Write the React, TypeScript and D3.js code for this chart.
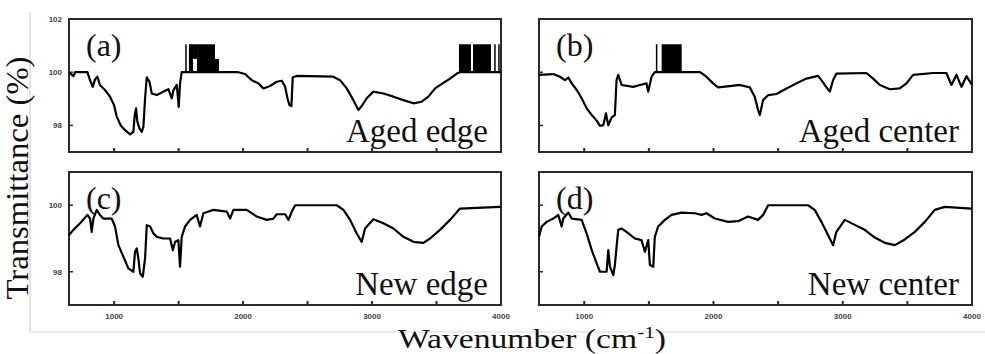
import React from "react";
import * as d3 from "d3";

type Pt = [number, number];

// [wavenumber (cm-1), transmittance (%)]
const agedEdge: Pt[] = [
  [650, 100], [684, 99.85], [697, 100], [793, 100], [813, 99.7], [834, 99.45], [852, 99.73],
  [870, 99.83], [890, 99.52], [929, 99.33], [968, 99.08], [999, 98.77], [1020, 98.33],
  [1051, 98.0], [1085, 97.82], [1124, 97.66], [1149, 97.76], [1160, 98.39], [1170, 98.64],
  [1180, 98.14], [1196, 97.89], [1214, 97.76], [1227, 97.95], [1240, 99.02], [1253, 99.81],
  [1274, 99.64], [1292, 99.2], [1331, 99.14], [1382, 99.27], [1421, 99.36], [1447, 99.02],
  [1460, 99.33], [1486, 99.52], [1501, 98.7], [1511, 99.58], [1524, 100], [1963, 100],
  [2015, 99.93], [2067, 99.7], [2119, 99.58], [2157, 99.39], [2209, 99.48], [2261, 99.64],
  [2300, 99.68], [2326, 99.45], [2344, 99.02], [2359, 98.77], [2375, 98.73], [2385, 99.81],
  [2416, 99.86], [2700, 99.83], [2752, 99.7], [2804, 99.39], [2855, 98.95], [2894, 98.58],
  [2920, 98.73], [2959, 99.02], [3010, 99.27], [3088, 99.2], [3166, 99.08], [3243, 98.95],
  [3321, 98.83], [3385, 98.89], [3437, 99.08], [3489, 99.39], [3553, 99.6], [3605, 99.76],
  [3657, 99.95], [3682, 100], [4000, 100],
];

const agedCenter: Pt[] = [
  [650, 99.9], [761, 99.93], [812, 99.83], [851, 99.7], [877, 99.8], [903, 99.58], [942, 99.33],
  [980, 99.02], [1019, 98.64], [1058, 98.39], [1096, 98.18], [1122, 97.98], [1148, 98.01],
  [1168, 98.45], [1186, 98.0], [1212, 98.3], [1237, 98.39], [1250, 99.7], [1263, 99.9],
  [1289, 99.52], [1379, 99.45], [1431, 99.52], [1482, 99.58], [1495, 99.27], [1521, 99.83],
  [1546, 100], [1896, 100], [1945, 99.83], [1997, 99.58], [2035, 99.43], [2126, 99.48],
  [2203, 99.52], [2281, 99.43], [2319, 99.08], [2345, 98.58], [2358, 98.39], [2384, 98.95],
  [2423, 99.14], [2487, 99.18], [2565, 99.39], [2642, 99.58], [2719, 99.76], [2809, 99.86],
  [2835, 99.7], [2874, 99.43], [2900, 99.27], [2925, 99.7], [2951, 99.95], [3183, 99.97],
  [3235, 99.76], [3287, 99.52], [3364, 99.36], [3441, 99.39], [3493, 99.58], [3544, 99.9],
  [3699, 99.97], [3802, 99.97], [3841, 99.52], [3880, 99.9], [3919, 99.45], [3957, 99.85],
  [3996, 99.55], [4000, 99.6],
];

const newEdge: Pt[] = [
  [650, 99.1], [684, 99.26], [736, 99.46], [793, 99.71], [813, 99.6], [826, 99.2], [839, 99.6],
  [865, 99.86], [890, 99.71], [916, 99.6], [981, 99.6], [1007, 99.36], [1033, 98.8],
  [1072, 98.45], [1110, 98.1], [1149, 98.0], [1162, 98.6], [1175, 98.7], [1188, 98.4],
  [1201, 97.95], [1222, 97.85], [1240, 98.4], [1253, 99.4], [1279, 99.36], [1305, 99.15],
  [1331, 99.05], [1382, 99.0], [1434, 99.0], [1455, 98.65], [1473, 98.9], [1498, 98.95],
  [1511, 98.15], [1524, 99.05], [1550, 99.36], [1589, 99.56], [1640, 99.71], [1666, 99.36],
  [1692, 99.76], [1770, 99.86], [1873, 99.81], [1899, 99.6], [1925, 99.86], [2028, 99.86],
  [2106, 99.66], [2183, 99.56], [2235, 99.6], [2261, 99.73], [2326, 99.73], [2352, 99.56],
  [2378, 99.81], [2404, 100.0], [2726, 100.0], [2778, 99.86], [2830, 99.56], [2881, 99.15],
  [2920, 98.9], [2946, 99.3], [3010, 99.58], [3088, 99.46], [3166, 99.3], [3243, 99.05],
  [3321, 98.9], [3398, 98.87], [3450, 99.0], [3527, 99.26], [3605, 99.56], [3682, 99.9],
  [3992, 99.95], [4000, 99.95],
];

const newCenter: Pt[] = [
  [650, 99.05], [671, 99.36], [709, 99.5], [761, 99.6], [799, 99.71], [825, 99.36],
  [838, 99.6], [877, 99.78], [903, 99.6], [980, 99.56], [1019, 99.15], [1058, 98.65],
  [1096, 98.25], [1122, 98.0], [1173, 98.0], [1186, 98.65], [1199, 98.15], [1225, 97.9],
  [1237, 98.2], [1250, 98.75], [1263, 99.26], [1289, 99.3], [1327, 99.2], [1392, 99.0],
  [1443, 98.95], [1469, 98.6], [1495, 98.95], [1508, 98.2], [1534, 98.15], [1546, 99.05],
  [1572, 99.36], [1624, 99.56], [1676, 99.71], [1753, 99.78], [1856, 99.76], [1908, 99.71],
  [1946, 99.76], [2010, 99.6], [2113, 99.5], [2190, 99.52], [2268, 99.66], [2345, 99.56],
  [2384, 99.71], [2423, 100.0], [2732, 100.0], [2783, 99.86], [2835, 99.5], [2887, 99.1],
  [2925, 98.8], [2951, 99.2], [3016, 99.56], [3093, 99.41], [3170, 99.26], [3248, 99.03],
  [3325, 98.87], [3403, 98.8], [3480, 98.97], [3558, 99.2], [3635, 99.5], [3712, 99.86],
  [3790, 99.95], [3996, 99.9], [4000, 99.9],
];

// saturated (rapidly oscillating) bands: [w0, w1, tLow, tHigh]
const agedEdgeBands: [number, number, number, number][] = [
  [1580, 1612, 100, 101.05], [1612, 1643, 100.5, 101.05], [1643, 1782, 100, 101.05],
  [1782, 1813, 100, 100.5], [3674, 3767, 100, 101.05], [3783, 3922, 100, 101.05],
];
const agedEdgeSpikes: [number, number, number][] = [
  [1557, 100, 101.05], [3953, 100, 101.05], [3984, 100, 101.05],
];
const agedCenterBands: [number, number, number, number][] = [[1599, 1754, 100, 101.05]];
const agedCenterSpikes: [number, number, number][] = [[1560, 100, 101.05]];

const xDomain: [number, number] = [650, 4000];
const xTickValues = [1000, 1500, 2000, 2500, 3000, 3500];
const xTickLabels = [1000, 2000, 3000, 4000];
const topYDomain: [number, number] = [97, 102];
const bottomYDomain: [number, number] = [97, 101];
const topYTickLabels = [102, 100, 98];
const bottomYTickLabels = [100, 98];
const yTickValues = [100, 98];

const SERIF = "'Liberation Serif', 'Times New Roman', Times, serif";
const SANS = "'Liberation Sans', Arial, sans-serif";

type PanelProps = {
  left: number; top: number; width: number; height: number;
  yDomain: [number, number]; data: Pt[];
  bands?: [number, number, number, number][]; spikes?: [number, number, number][];
  letter: string; name: string; yLabels?: number[]; xLabels?: boolean;
};

function Panel(p: PanelProps) {
  const x = d3.scaleLinear().domain(xDomain).range([p.left, p.left + p.width]);
  const y = d3.scaleLinear().domain(p.yDomain).range([p.top + p.height, p.top]);
  const line = d3.line<Pt>().x((d) => x(d[0])).y((d) => y(d[1])).curve(d3.curveLinear);
  const bottom = p.top + p.height;
  const right = p.left + p.width;
  return (
    <g>
      <rect x={p.left} y={p.top} width={p.width} height={p.height} fill="#fff" stroke="#2a2a2a" strokeWidth={2} />
      {xTickValues.map((t) => (
        <line key={"xt" + t} x1={x(t)} x2={x(t)} y1={bottom} y2={bottom - 4} stroke="#2a2a2a" strokeWidth={2} />
      ))}
      {yTickValues.map((t) => (
        <line key={"yt" + t} x1={p.left} x2={p.left + 4} y1={y(t)} y2={y(t)} stroke="#2a2a2a" strokeWidth={1.5} />
      ))}
      {(p.bands || []).map((b, i) => (
        <rect key={"b" + i} x={x(b[0])} width={x(b[1]) - x(b[0])} y={y(b[3])} height={y(b[2]) - y(b[3])} fill="#000" />
      ))}
      {(p.spikes || []).map((s, i) => (
        <line key={"s" + i} x1={x(s[0])} x2={x(s[0])} y1={y(s[1])} y2={y(s[2])} stroke="#000" strokeWidth={1.5} />
      ))}
      <path d={line(p.data) || ""} fill="none" stroke="#000" strokeWidth={2.2} strokeLinejoin="round" />
      {(p.yLabels || []).map((t) => (
        <text key={"yl" + t} x={p.left - 7} y={y(t) + 3} textAnchor="end" fontSize={8} fontWeight="bold"
          fontFamily={SANS} fill="#444">{t}</text>
      ))}
      {p.xLabels && xTickLabels.map((t) => (
        <text key={"xl" + t} x={x(t)} y={bottom + 14} textAnchor="middle" fontSize={8} fontWeight="bold"
          fontFamily={SANS} fill="#444">{t}</text>
      ))}
      <text x={p.left + 17} y={p.top + 37} fontSize={32} fontFamily={SERIF} fill="#111">{p.letter}</text>
      <text x={right - 13} y={bottom - 10} textAnchor="end" fontSize={33} fontFamily={SERIF} fill="#111">{p.name}</text>
    </g>
  );
}

export default function App() {
  return (
    <svg width={985} height={354} style={{ position: "absolute", left: 0, top: 0, background: "#fff" }}>
      <line x1={30} x2={30} y1={12} y2={332} stroke="#c8c8c8" strokeWidth={1} />
      <line x1={30} x2={985} y1={332} y2={332} stroke="#d8d8d8" strokeWidth={1} />
      <Panel left={69} top={19} width={432} height={133} yDomain={topYDomain} data={agedEdge}
        bands={agedEdgeBands} spikes={agedEdgeSpikes} letter="(a)" name="Aged edge" yLabels={topYTickLabels} />
      <Panel left={539} top={19} width={433} height={133} yDomain={topYDomain} data={agedCenter}
        bands={agedCenterBands} spikes={agedCenterSpikes} letter="(b)" name="Aged center" />
      <Panel left={69} top={172} width={432} height={133} yDomain={bottomYDomain} data={newEdge}
        letter="(c)" name="New edge" yLabels={bottomYTickLabels} xLabels />
      <Panel left={539} top={172} width={433} height={133} yDomain={bottomYDomain} data={newCenter}
        letter="(d)" name="New center" xLabels />
      <text transform="translate(28,178) rotate(-90)" textAnchor="middle" fontSize={31} textLength={243}
        lengthAdjust="spacingAndGlyphs" fontFamily={SERIF} fill="#111">Transmittance (%)</text>
      <text x={398} y={348} fontSize={27} fontFamily={SERIF} fill="#111"
        textLength={268} lengthAdjust="spacingAndGlyphs">
        Wavenumber (cm<tspan dy={-10} fontSize={17}>-1</tspan><tspan dy={10}>)</tspan>
      </text>
    </svg>
  );
}
